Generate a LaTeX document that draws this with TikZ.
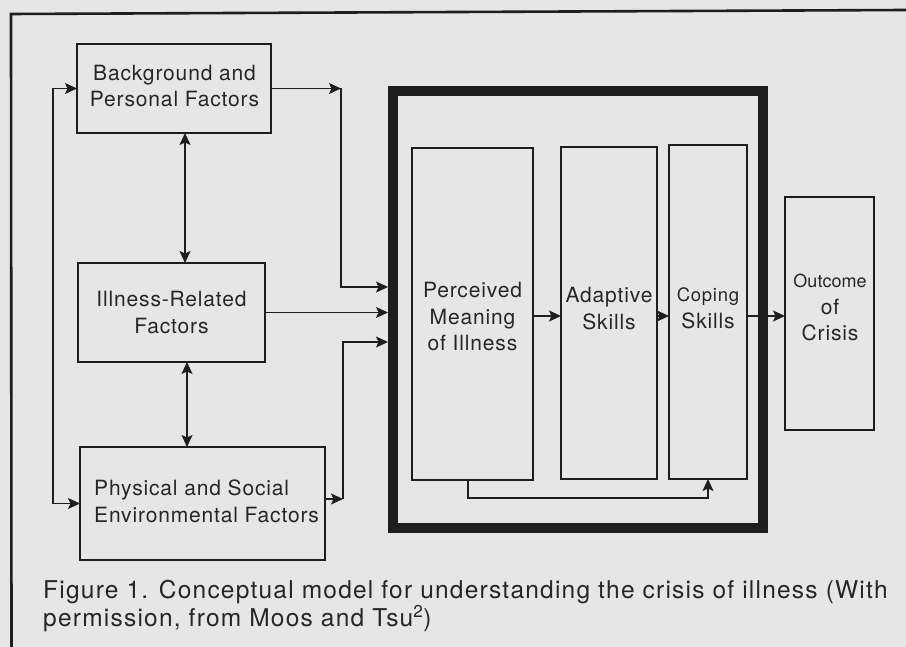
\documentclass[tikz,border=0pt]{standalone}
\usepackage{fontspec}
\setmainfont{TeX Gyre Heros}
\newfontfamily\bfnt[LetterSpace=4]{TeX Gyre Heros}
\newfontfamily\cfnt[LetterSpace=5]{TeX Gyre Heros}
\usetikzlibrary{arrows.meta}
\definecolor{paper}{HTML}{E6E6E6}
\definecolor{ink}{HTML}{1E1E1E}
\definecolor{txtc}{HTML}{262626}
\begin{document}
\begin{tikzpicture}[x=1pt,y=-1pt,
  box/.style={draw=ink, line width=2.6pt, inner sep=0pt, outer sep=0pt},
  thickbox/.style={draw=ink, line width=10pt, inner sep=0pt, outer sep=5pt},
  txt/.style={inner sep=0pt, text=txtc, align=center,
    font=\bfnt\fontsize{21}{26.5}\selectfont},
  conn/.style={draw=ink, line width=1.4pt},
  tip/.style={-{Stealth[length=12pt,width=11pt,inset=2.5pt]}},
  tips/.style={{Stealth[length=12pt,width=11pt,inset=2.5pt]}-{Stealth[length=12pt,width=11pt,inset=2.5pt]}},
  frame/.style={draw=ink, line width=2.6pt}]
% canvas
\fill[paper] (0,0) rectangle (906,647);
\useasboundingbox (0,0) rectangle (906,647);
% outer frame (only top and left edges visible)
\coordinate (fa) at (11.5,647);
\coordinate (fb) at (11,14);
\coordinate (fc) at (906,10);
\draw[frame] (fa) -- (fb) -- (fc);

% left-side boxes
\node[box, minimum width=194pt, minimum height=89pt] (bg) at (174,88.5) {};
\node[box, minimum width=187pt, minimum height=99pt] (ill) at (171.5,312.5) {};
\node[box, minimum width=245pt, minimum height=113pt] (phy) at (202.5,503.5) {};
\node[txt] (bgt) at (174.5,86) {Background and\\Personal Factors};
\node[txt] (illt) at (171.5,312.5) {Illness-Related\\Factors};
\node[txt, align=left, anchor=west] (phyt) at (94,501.5) {Physical and Social\\Environmental Factors};

% thick enclosing box
\node[thickbox, minimum width=370pt, minimum height=437pt] (big) at (578,309.5) {};

% inner boxes
\node[box, minimum width=121pt, minimum height=332pt] (per) at (472.5,314) {};
\node[box, minimum width=96pt, minimum height=332pt] (ada) at (609,313) {};
\node[box, minimum width=78pt, minimum height=334pt] (cop) at (708,312) {};
\node[box, minimum width=89pt, minimum height=233pt] (out) at (829.5,313.5) {};
\node[txt] (pert) at (472.5,317) {Perceived\\Meaning\\of Illness};
\node[txt] (adat) at (609,308.5) {Adaptive\\Skills};
\node[txt] (copt) at (708,308.5) {{\fontsize{18.5}{26.5}\selectfont Coping}\\Skills};
\node[txt] (outt) at (830,307.5) {{\rmfamily\fontsize{18}{26.5}\selectfont Outcome}\\of\\Crisis};

% helper coordinates
\coordinate (vx1) at (185,0);
\coordinate (vx2) at (187,0);
\coordinate (lx) at (53,0);
\coordinate (j1) at (341,88.5);
\coordinate (y1) at (0,287);
\coordinate (j2) at (343,499);
\coordinate (y2) at (0,342);
\coordinate (ry) at (0,316);
\coordinate (fx) at (468,0);
\coordinate (fy) at (0,498);

% left loop between background and physical factors
\draw[conn, tips] (bg.west) -- (bg.west -| lx) -- (phy.west -| lx) -- (phy.west);
% vertical double arrows
\draw[conn, tips] (bg.south -| vx1) -- (ill.north -| vx1);
\draw[conn, tips] (ill.south -| vx2) -- (phy.north -| vx2);
% inputs to the thick box
\draw[conn, tip] (bg.east) -- (j1);
\draw[conn, tip] (j1) |- (big.west |- y1);
\draw[conn, tip] (ill.east) -- (ill.east -| big.west);
\draw[conn, tip] (phy.east |- j2) -- (j2);
\draw[conn, tip] (j2) |- (big.west |- y2);
% chain inside
\draw[conn, tip] (per.east |- ry) -- (ada.west |- ry);
\draw[conn, tip] (ada.east |- ry) -- (cop.west |- ry);
\draw[conn, tip] (cop.east |- ry) -- (out.west |- ry);
% feedback loop
\draw[conn, tip] (per.south -| fx) -- (fx |- fy) -| (cop.south);

% caption
\node[inner sep=0pt, anchor=north west, align=left, text=txtc,
  font=\cfnt\fontsize{24.5}{25}\selectfont] (cap) at (43,580)
  {Figure 1. Conceptual model for understanding the crisis of illness (With\\permission, from Moos and Tsu\textsuperscript{2})};
\end{tikzpicture}
\end{document}
